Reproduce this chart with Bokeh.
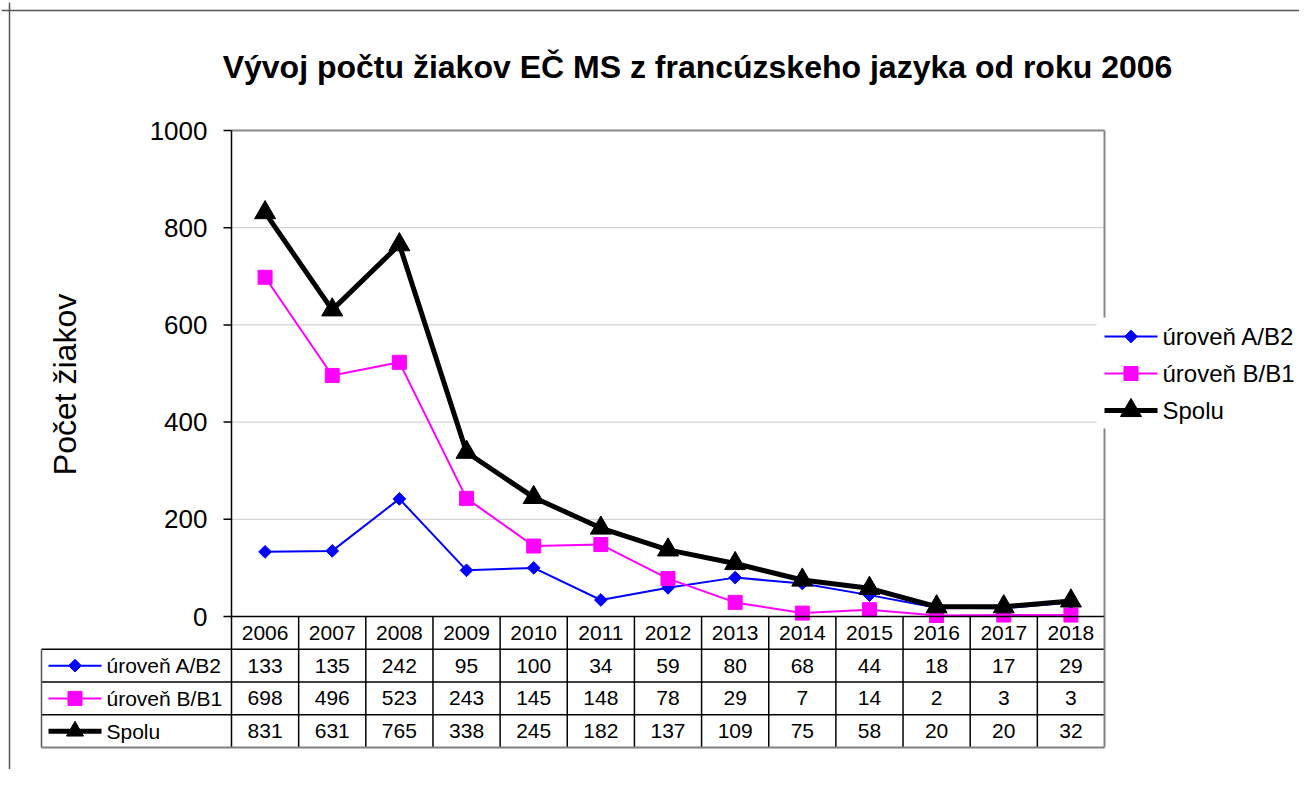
from bokeh.plotting import figure
from bokeh.models import Range1d, ColumnDataSource, Span
from bokeh.core.properties import value
from bokeh.embed import file_html
from bokeh.resources import INLINE
import math

# ---------------- data ----------------
years = ["2006", "2007", "2008", "2009", "2010", "2011", "2012",
         "2013", "2014", "2015", "2016", "2017", "2018"]
ab2 = [133, 135, 242, 95, 100, 34, 59, 80, 68, 44, 18, 17, 29]
bb1 = [698, 496, 523, 243, 145, 148, 78, 29, 7, 14, 2, 3, 3]
spolu = [831, 631, 765, 338, 245, 182, 137, 109, 75, 58, 20, 20, 32]
series_names = ["úroveň A/B2", "úroveň B/B1", "Spolu"]
y_ticks = [0, 200, 400, 600, 800, 1000]
title_text = "Vývoj počtu žiakov EČ MS z francúzskeho jazyka od roku 2006"
ylabel_text = "Počet žiakov"

# ---------------- layout constants (page pixels) ----------------
ORG = 1          # observed page origin of the figure
W, H = 1299, 769
MB_L, MB_T = 1, 2
FR_L, FR_T, FR_R, FR_B = ORG + MB_L, ORG + MB_T, ORG + W, ORG + H
PL, PR, PT, PB = 232, 1105, 131, 617
N = len(years)
COLW = (PR - PL) / N
YS = (y_ticks[-1] - y_ticks[0]) / (PB - PT)
ROW_H = (748 - PB) / 4.0


def px2x(px):
    return (px - PL) / COLW - 0.5


def px2y(py):
    return (PB - py) * YS


FONT = value("Liberation Sans")

p = figure(width=W, height=H, output_backend="svg", toolbar_location=None,
           x_range=Range1d(px2x(FR_L), px2x(FR_R)),
           y_range=Range1d(px2y(FR_B), px2y(FR_T)),
           x_axis_location=None, y_axis_location=None, title=None,
           min_border_left=MB_L, min_border_top=MB_T,
           min_border_right=0, min_border_bottom=0)
p.extra_y_ranges = {"table": Range1d(-(FR_B - PB) / ROW_H, (PB - FR_T) / ROW_H)}
p.grid.visible = False
p.outline_line_color = None
p.background_fill_color = "white"
p.border_fill_color = "white"

# outer chart border (left and top)
p.add_layout(Span(location=px2x(10), dimension="height", line_color="#555555", line_width=1.5))
p.add_layout(Span(location=px2y(11), dimension="width", line_color="#555555", line_width=1.5))

x_lo, x_hi = -0.5, N - 0.5

# gridlines
grid_vals = [t for t in y_ticks if t not in (y_ticks[0], y_ticks[-1])]
p.segment(x0=[x_lo] * len(grid_vals), x1=[x_hi] * len(grid_vals),
          y0=grid_vals, y1=grid_vals, line_color="#c8c8c8", line_width=1)
# plot area border top/right (gray)
p.segment(x0=[x_lo, x_hi], x1=[x_hi, x_hi], y0=[y_ticks[-1], y_ticks[0]],
          y1=[y_ticks[-1], y_ticks[-1]], line_color="#888888", line_width=2)
# y axis line and ticks
p.segment(x0=[x_lo], x1=[x_lo], y0=[y_ticks[0]], y1=[y_ticks[-1]], line_color="black", line_width=1.5)
p.segment(x0=[x_lo - 8 / COLW] * len(y_ticks), x1=[x_lo] * len(y_ticks),
          y0=y_ticks, y1=y_ticks, line_color="black", line_width=1.5)
p.text(x=[x_lo] * len(y_ticks), y=y_ticks, text=[str(t) for t in y_ticks],
       x_offset=-24, text_align="right", text_baseline="middle",
       text_font=FONT, text_font_size="26px", text_color="black")

# title & y label
p.text(x=[px2x(698)], y=[px2y(67)], text=[title_text], text_align="center",
       text_baseline="middle", text_font=FONT, text_font_size="32px",
       text_font_style="bold", text_color="black")
p.text(x=[px2x(65)], y=[px2y(385)], text=[ylabel_text], angle=math.pi / 2,
       text_align="center", text_baseline="middle", text_font=FONT,
       text_font_size="32px", text_color="black")

# ---------------- series ----------------
xs = list(range(N))
colors = ["#0000ff", "#ff00ff", "#000000"]
widths = [2, 2, 5]
series = [ab2, bb1, spolu]
markers = [("square", 9, math.pi / 4), ("square", 14, 0), ("triangle", 21, 0)]
for vals, name, col, lw, (mk, sz, ang) in zip(series, series_names, colors, widths, markers):
    src = ColumnDataSource(dict(x=xs, y=vals))
    p.line("x", "y", source=src, line_color=col, line_width=lw)
    p.scatter("x", "y", source=src, marker=mk, size=sz, angle=ang,
              fill_color=col, line_color=col, line_width=1)

# ---------------- legend (right side) ----------------
p.quad(left=[px2x(1097)], right=[px2x(1312)], bottom=[px2y(429)], top=[px2y(318)],
       fill_color="white", line_color=None)
leg_y = [337, 374, 411]
for name, col, lw, (mk, sz, ang), ly in zip(series_names, colors, widths, markers, leg_y):
    yy = px2y(ly)
    p.segment(x0=[px2x(1105)], x1=[px2x(1158)], y0=[yy], y1=[yy], line_color=col, line_width=lw)
    p.scatter(x=[px2x(1131.5)], y=[yy], marker=mk, size=sz, angle=ang,
              fill_color=col, line_color=col)
    p.text(x=[px2x(1163)], y=[yy], text=[name], text_align="left", text_baseline="middle",
           text_font=FONT, text_font_size="24px", text_color="black")

# ---------------- data table ----------------
lab_l = px2x(42)
T = "table"
# horizontal lines
hy = [0, -1, -2, -3]
p.segment(x0=[x_lo] + [lab_l] * 3, x1=[x_hi] * 4, y0=hy, y1=hy,
          line_color="black", line_width=1.5, y_range_name=T)
# vertical lines
vx = [x_lo + k for k in range(N)]
p.segment(x0=vx, x1=vx, y0=[0] * len(vx), y1=[-4] * len(vx),
          line_color="black", line_width=1.5, y_range_name=T)
p.segment(x0=[lab_l], x1=[lab_l], y0=[-1], y1=[-4],
          line_color="#555555", line_width=1.5, y_range_name=T)
# outer right / bottom (gray)
p.segment(x0=[x_hi, lab_l], x1=[x_hi, x_hi], y0=[0, -4], y1=[-4, -4],
          line_color="#808080", line_width=2, y_range_name=T)

# header years
p.text(x=xs, y=[-0.5] * N, text=years, text_align="center", text_baseline="middle",
       text_font=FONT, text_font_size="21px", text_color="black", y_range_name=T)
for r, vals in enumerate(series):
    p.text(x=xs, y=[-(r + 1.5)] * N, text=[str(v) for v in vals], text_align="center",
           text_baseline="middle", text_font=FONT, text_font_size="21px",
           text_color="black", y_range_name=T)

# table legend keys
for r, (name, col, lw, (mk, sz, ang)) in enumerate(zip(series_names, colors, widths, markers)):
    yy = -(r + 1.5)
    p.segment(x0=[px2x(49)], x1=[px2x(102)], y0=[yy], y1=[yy], line_color=col,
              line_width=lw, y_range_name=T)
    p.scatter(x=[px2x(75.5)], y=[yy], marker=mk, size=min(sz, 17), angle=ang,
              fill_color=col, line_color=col, y_range_name=T)
    p.text(x=[px2x(107)], y=[yy], text=[name], text_align="left", text_baseline="middle",
           text_font=FONT, text_font_size="21px", text_color="black", y_range_name=T)

open("out.html", "w").write(file_html(p, INLINE))
